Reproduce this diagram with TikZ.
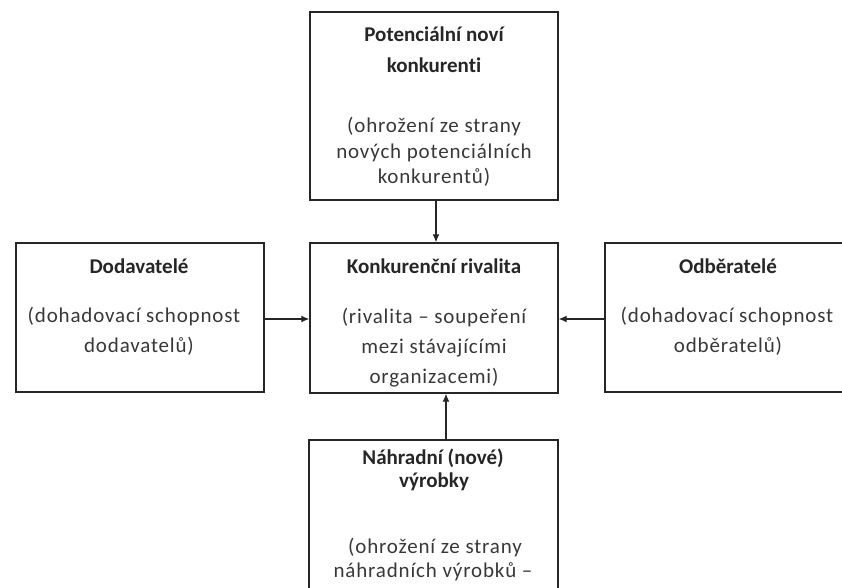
\documentclass[tikz,border=0pt]{standalone}
\usepackage{fontspec}
\setmainfont[Ligatures=NoCommon]{Carlito}
\newfontfamily\widefont[Ligatures=NoCommon,LetterSpace=4]{Carlito}
\usetikzlibrary{arrows.meta}
\begin{document}
\begin{tikzpicture}[x=1pt,y=-1pt,
  box/.style={draw=black!85, line width=1.4pt, inner sep=0pt},
  ttl/.style={font=\fontsize{21}{24}\selectfont\bfseries, text=black!85, anchor=base, inner sep=0pt},
  txt/.style={font=\widefont\fontsize{21}{24}\selectfont, text=black!78, anchor=base, inner sep=0pt},
  arr/.style={draw=black!85, line width=1.2pt, -{Latex[length=8pt,width=7pt]}}]
\useasboundingbox (0,0) rectangle (842,588);
\clip (0,0) rectangle (842,588);

% the five forces
\node[box, minimum width=248pt, minimum height=188pt] (pot) at (434,106) {};
\node[box, minimum width=248pt, minimum height=150pt] (riv) at (434,318) {};
\node[box, minimum width=248pt, minimum height=149pt] (dod) at (140,317.5) {};
\node[box, minimum width=246pt, minimum height=149pt] (odb) at (728,317.5) {};
\node[box, minimum width=249pt, minimum height=200pt] (nah) at (433.5,540) {};

% potential new competitors
\node[ttl] (pot1) at (434,42) {Potenciální noví};
\node[ttl] (pot2) at (434,73) {konkurenti};
\node[txt] (pot3) at (434,133) {(ohrožení ze strany};
\node[txt] (pot4) at (434,158) {nových potenciálních};
\node[txt] (pot5) at (434,183) {konkurentů)};

% rivalry
\node[ttl] (riv1) at (434,273) {Konkurenční rivalita};
\node[txt] (riv2) at (434,323) {(rivalita – soupeření};
\node[txt] (riv3) at (434,353) {mezi stávajícími};
\node[txt] (riv4) at (434,383) {organizacemi)};

% suppliers
\node[ttl] (dod1) at (139,273) {Dodavatelé};
\node[txt] (dod2) at (134,322) {(dohadovací schopnost};
\node[txt] (dod3) at (139,352) {dodavatelů)};

% buyers
\node[ttl] (odb1) at (728,273) {Odběratelé};
\node[txt] (odb2) at (727,322) {(dohadovací schopnost};
\node[txt] (odb3) at (728,352) {odběratelů)};

% substitutes
\node[ttl] (nah1) at (433,464) {Náhradní (nové)};
\node[ttl] (nah2) at (434,487) {výrobky};
\node[txt] (nah3) at (435,553) {(ohrožení ze strany};
\node[txt] (nah4) at (433,577) {náhradních výrobků –};

% influences on the rivalry
\draw[arr] ([xshift=2pt]pot.south) -- ([xshift=2pt]riv.north);
\draw[arr] ([xshift=12.5pt]nah.north) -- ([xshift=12pt]riv.south);
\draw[arr] ([yshift=-1.5pt]dod.east) -- ([yshift=-1pt]riv.west);
\draw[arr] ([yshift=-1.5pt]odb.west) -- ([yshift=-1pt]riv.east);
\end{tikzpicture}
\end{document}
